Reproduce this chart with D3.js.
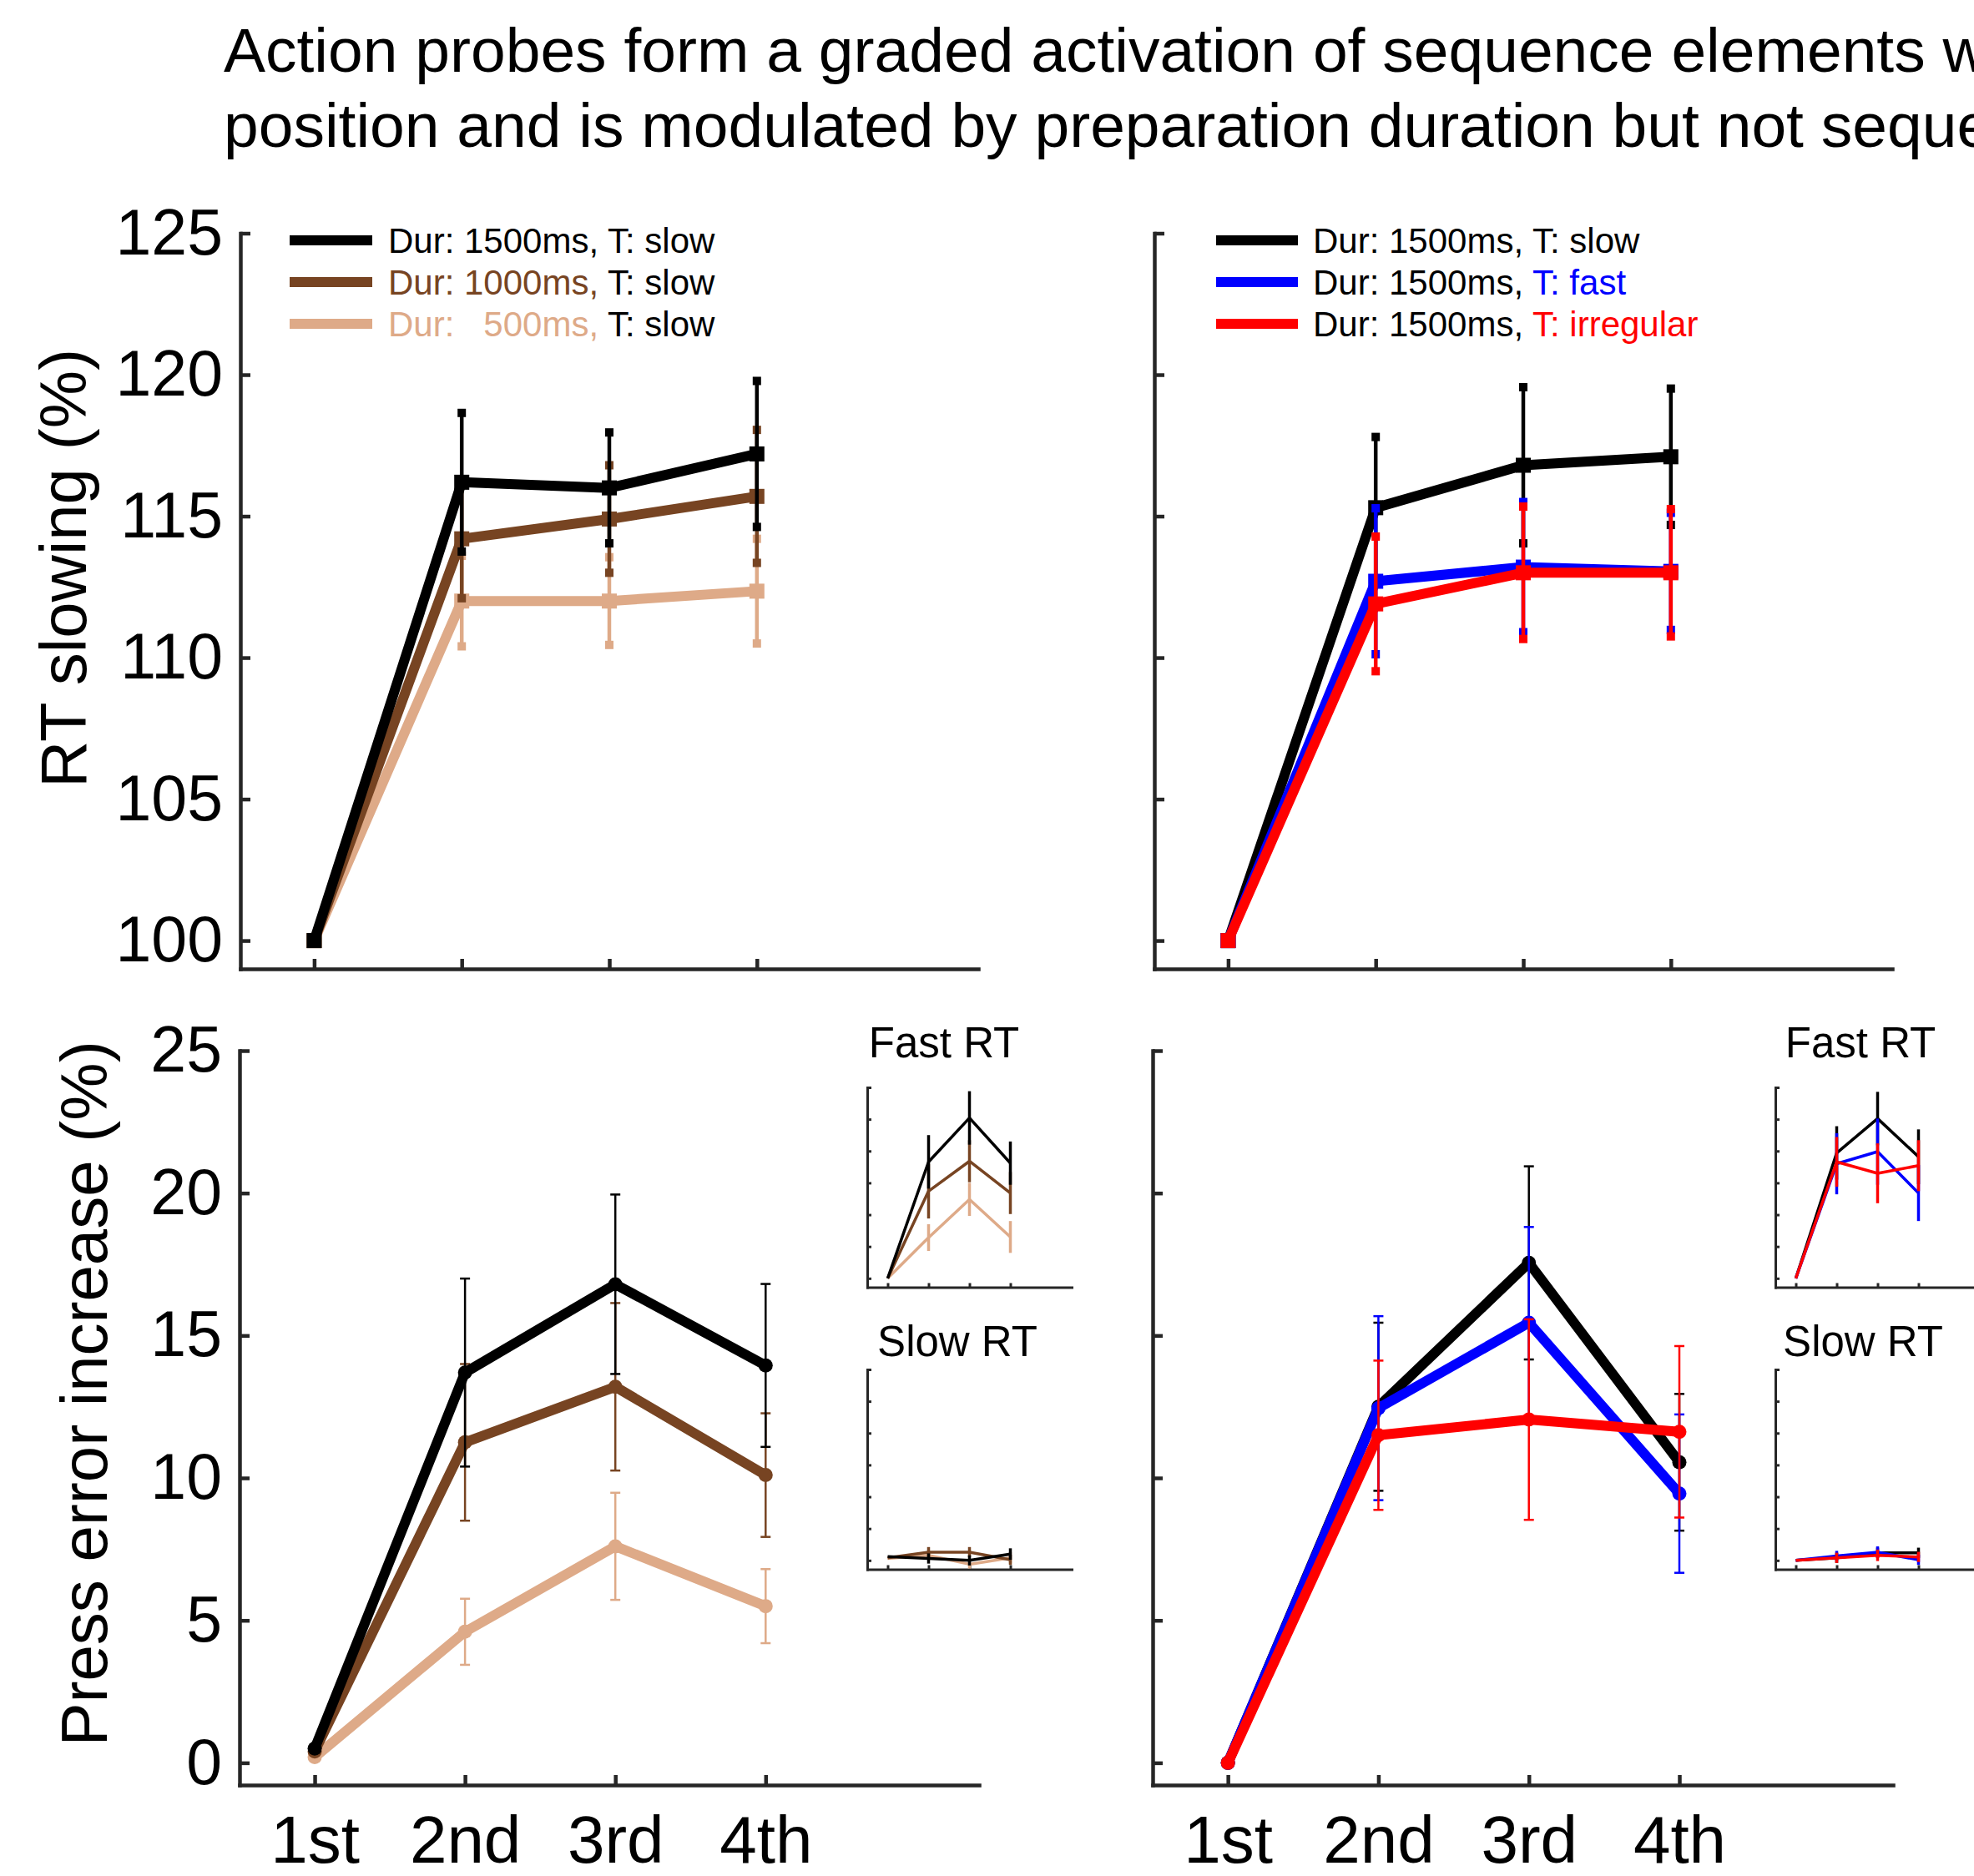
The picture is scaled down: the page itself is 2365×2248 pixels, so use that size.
<!DOCTYPE html>
<html>
<head>
<meta charset="utf-8">
<script src="https://cdn.jsdelivr.net/npm/d3@7"></script>
<style>
body { margin: 0; background: #fff; }
svg { display: block; font-family: "Liberation Sans", Arial, sans-serif; }
.leg { white-space: pre; }
</style>
</head>
<body>
<svg id="fig" width="2365" height="2248"></svg>
<script>
// x categories
const positions = ["1st", "2nd", "3rd", "4th"];
const posIdx = [1, 2, 3, 4];

// RT slowing (%), preparation duration (left top)
const rtDur1500 = [100, 116.2, 116.0, 117.2];
const rtDur1500Err = [0, 2.45, 1.96, 2.58];
const rtDur1000 = [100, 114.2, 114.9, 115.7];
const rtDur1000Err = [0, 2.1, 1.9, 2.35];
const rtDur500 = [100, 112.0, 112.0, 112.35];
const rtDur500Err = [0, 1.6, 1.55, 1.85];

// RT slowing (%), timing (right top)
const rtTimSlow = [100, 115.3, 116.8, 117.1];
const rtTimSlowErr = [0, 2.5, 2.76, 2.41];
const rtTimFast = [100, 112.7, 113.2, 113.05];
const rtTimFastErr = [0, 2.58, 2.3, 2.07];
const rtTimIrr = [100, 111.9, 113.0, 113.0];
const rtTimIrrErr = [0, 2.38, 2.34, 2.25];

// press error increase (%), duration (left bottom)
const peDur1500 = [0.5, 13.7, 16.8, 13.95];
const peDur1500Err = [0, 3.3, 3.15, 2.86];
const peDur1000 = [0.4, 11.25, 13.2, 10.1];
const peDur1000Err = [0, 2.75, 2.94, 2.17];
const peDur500 = [0.2, 4.6, 7.6, 5.5];
const peDur500Err = [0, 1.16, 1.88, 1.3];

// press error increase (%), timing (right bottom)
const peTimSlow = [0, 12.5, 17.55, 10.55];
const peTimSlowErr = [0, 2.95, 3.39, 2.4];
const peTimFast = [0, 12.45, 15.45, 9.45];
const peTimFastErr = [0, 3.23, 3.36, 2.78];
const peTimIrr = [0, 11.5, 12.05, 11.62];
const peTimIrrErr = [0, 2.62, 3.52, 3.01];

// insets: fast RT / slow RT (duration)
const fastDur1500 = [0, 18.3, 25.2, 18.1];
const fastDur1500Err = [0, 4.2, 4.2, 3.4];
const fastDur1000 = [0, 13.7, 18.4, 13.4];
const fastDur1000Err = [0, 4.3, 3.3, 3.3];
const fastDur500 = [0, 6.4, 12.4, 6.5];
const fastDur500Err = [0, 2.1, 2.6, 2.5];
const slowDur1500 = [0.6, 0.3, 0.0, 1.0];
const slowDur1500Err = [0, 0.8, 0.8, 0.9];
const slowDur1000 = [0.4, 1.3, 1.3, 0.1];
const slowDur1000Err = [0, 0.8, 0.8, 0.8];
const slowDur500 = [0.3, 0.8, -0.6, 0.4];
const slowDur500Err = [0, 0.7, 0.7, 0.9];

// insets: fast RT / slow RT (timing)
const fastTimSlow = [0, 19.7, 25.1, 19.1];
const fastTimSlowErr = [0, 4.2, 4.2, 4.3];
const fastTimFast = [0, 18.0, 19.9, 13.4];
const fastTimFastErr = [0, 4.8, 5.2, 4.4];
const fastTimIrr = [0, 18.3, 16.5, 17.7];
const fastTimIrrErr = [0, 3.9, 4.7, 4.0];
const slowTimSlow = [0, 0.4, 1.2, 1.2];
const slowTimSlowErr = [0, 0.8, 0.8, 0.8];
const slowTimFast = [0, 0.7, 1.3, 0.1];
const slowTimFastErr = [0, 0.8, 0.9, 0.8];
const slowTimIrr = [0, 0.4, 0.8, 0.55];
const slowTimIrrErr = [0, 0.8, 0.9, 0.8];

const rtTicks = [100, 105, 110, 115, 120, 125];
const peTicks = [0, 5, 10, 15, 20, 25];
const insetTicks = [0, 5, 10, 15, 20, 25, 30];

const cBlack = "#000000", cBrown = "#774422", cTan = "#DEAA88", cBlue = "#0000FF", cRed = "#FF0000";
const axisCol = "#262626";

const svg = d3.select("#fig");

// title (runs off the right edge, as in the original figure)
const title = svg.append("text").attr("font-size", 75).attr("fill", "#000");
title.append("tspan").attr("x", 268).attr("y", 86)
  .text("Action probes form a graded activation of sequence elements which scales with");
title.append("tspan").attr("x", 268).attr("y", 176)
  .text("position and is modulated by preparation duration but not sequence timing");

function drawPanel(p) {
  const x = d3.scaleLinear().domain(p.xDom).range([p.x0, p.x1]);
  const y = d3.scaleLinear().domain(p.yDom).range([p.yBot, p.yTop]);
  const g = svg.append("g");

  const xa = g.append("g")
    .attr("transform", `translate(0,${p.yBot})`)
    .call(d3.axisBottom(x).tickValues(posIdx).tickSizeInner(-p.tick).tickSizeOuter(0)
      .tickPadding(36).tickFormat((d, i) => p.xLabels ? positions[i] : ""));
  const ya = g.append("g")
    .attr("transform", `translate(${p.x0},0)`)
    .call(d3.axisLeft(y).tickValues(p.yTicks).tickSizeInner(-p.tick).tickSizeOuter(0)
      .tickPadding(21).tickFormat(d => p.yLabels ? d : ""));
  [xa, ya].forEach(a => {
    a.attr("color", axisCol).attr("font-family", null).attr("font-size", 77);
    a.select(".domain").attr("stroke-width", p.axisW).attr("stroke-linecap", "square");
    a.selectAll(".tick line").attr("stroke-width", p.axisW);
    a.selectAll(".tick text").attr("fill", "#000");
  });
  xa.attr("font-size", 80);

  const line = d3.line().x((d, i) => x(posIdx[i])).y(d => y(d));

  p.series.forEach(s => {
    const sg = g.append("g");
    sg.append("path").datum(s.vals)
      .attr("d", line)
      .attr("fill", "none")
      .attr("stroke", s.color)
      .attr("stroke-width", p.lineW)
      .attr("stroke-linejoin", "round");

    const eb = s.vals.map((v, i) => ({x: posIdx[i], v: v, e: s.err[i]})).filter(d => d.e > 0);
    sg.selectAll(".eb").data(eb).enter().append("line")
      .attr("x1", d => x(d.x)).attr("x2", d => x(d.x))
      .attr("y1", d => y(d.v - d.e)).attr("y2", d => y(d.v + d.e))
      .attr("stroke", s.color).attr("stroke-width", p.errW);
    if (p.cap === "square") {
      eb.forEach(d => {
        [d.v - d.e, d.v + d.e].forEach(v => {
          sg.append("rect")
            .attr("x", x(d.x) - 5).attr("y", y(v) - 5)
            .attr("width", 10).attr("height", 10)
            .attr("fill", s.color);
        });
      });
    } else if (p.cap === "line") {
      eb.forEach(d => {
        [d.v - d.e, d.v + d.e].forEach(v => {
          sg.append("line")
            .attr("x1", x(d.x) - 6).attr("x2", x(d.x) + 6)
            .attr("y1", y(v)).attr("y2", y(v))
            .attr("stroke", s.color).attr("stroke-width", p.errW);
        });
      });
    }

    if (p.marker === "square") {
      sg.selectAll(".mk").data(s.vals).enter().append("rect")
        .attr("x", (d, i) => x(posIdx[i]) - 9).attr("y", d => y(d) - 9)
        .attr("width", 18).attr("height", 18)
        .attr("fill", s.color);
    } else if (p.marker === "circle") {
      sg.selectAll(".mk").data(s.vals).enter().append("circle")
        .attr("cx", (d, i) => x(posIdx[i])).attr("cy", d => y(d))
        .attr("r", 8.5)
        .attr("fill", s.color);
    }
  });
}

// main panels
const mainTop = {yTop: 279.5, yBot: 1161, yDom: [99, 125], yTicks: rtTicks, xDom: [0.5, 5.5],
  tick: 12, axisW: 4.5, lineW: 12, errW: 4.5, cap: "square", marker: "square", xLabels: false};
const mainBot = {yTop: 1259, yBot: 2139, yDom: [-0.78, 25], yTicks: peTicks, xDom: [0.5, 5.42],
  tick: 12, axisW: 4.5, lineW: 12, errW: 2.5, cap: "line", marker: "circle", xLabels: true};

drawPanel(Object.assign({}, mainTop, {x0: 288, x1: 1172, yLabels: true, series: [
  {vals: rtDur500, err: rtDur500Err, color: cTan},
  {vals: rtDur1000, err: rtDur1000Err, color: cBrown},
  {vals: rtDur1500, err: rtDur1500Err, color: cBlack}]}));
drawPanel(Object.assign({}, mainTop, {x0: 1383, x1: 2267, yLabels: false, series: [
  {vals: rtTimSlow, err: rtTimSlowErr, color: cBlack},
  {vals: rtTimFast, err: rtTimFastErr, color: cBlue},
  {vals: rtTimIrr, err: rtTimIrrErr, color: cRed}]}));
drawPanel(Object.assign({}, mainBot, {x0: 287, x1: 1173, yLabels: true, series: [
  {vals: peDur500, err: peDur500Err, color: cTan},
  {vals: peDur1000, err: peDur1000Err, color: cBrown},
  {vals: peDur1500, err: peDur1500Err, color: cBlack}]}));
drawPanel(Object.assign({}, mainBot, {x0: 1381, x1: 2268, yLabels: false, series: [
  {vals: peTimSlow, err: peTimSlowErr, color: cBlack},
  {vals: peTimFast, err: peTimFastErr, color: cBlue},
  {vals: peTimIrr, err: peTimIrrErr, color: cRed}]}));

// insets
const inset = {yDom: [-1.4, 30], yTicks: insetTicks, xDom: [0.5, 5.5], tick: 5, axisW: 3,
  lineW: 3.5, errW: 3.5, cap: "none", marker: "none", xLabels: false, yLabels: false};
const durInsetSeries = (a, b, c, ae, be, ce) => [
  {vals: c, err: ce, color: cTan}, {vals: b, err: be, color: cBrown}, {vals: a, err: ae, color: cBlack}];
const timInsetSeries = (a, b, c, ae, be, ce) => [
  {vals: a, err: ae, color: cBlack}, {vals: b, err: be, color: cBlue}, {vals: c, err: ce, color: cRed}];

drawPanel(Object.assign({}, inset, {x0: 1039, x1: 1284, yTop: 1303, yBot: 1542.5,
  series: durInsetSeries(fastDur1500, fastDur1000, fastDur500, fastDur1500Err, fastDur1000Err, fastDur500Err)}));
drawPanel(Object.assign({}, inset, {x0: 1039, x1: 1284, yTop: 1641, yBot: 1880.5,
  series: durInsetSeries(slowDur1500, slowDur1000, slowDur500, slowDur1500Err, slowDur1000Err, slowDur500Err)}));
drawPanel(Object.assign({}, inset, {x0: 2127, x1: 2372, yTop: 1303, yBot: 1542.5,
  series: timInsetSeries(fastTimSlow, fastTimFast, fastTimIrr, fastTimSlowErr, fastTimFastErr, fastTimIrrErr)}));
drawPanel(Object.assign({}, inset, {x0: 2127, x1: 2372, yTop: 1641, yBot: 1880.5,
  series: timInsetSeries(slowTimSlow, slowTimFast, slowTimIrr, slowTimSlowErr, slowTimFastErr, slowTimIrrErr)}));

// inset titles
[[1131, 1267, "Fast RT"], [1147, 1625, "Slow RT"], [2229, 1267, "Fast RT"], [2232, 1625, "Slow RT"]]
  .forEach(t => {
    svg.append("text").attr("x", t[0]).attr("y", t[1])
      .attr("text-anchor", "middle").attr("font-size", 51).attr("fill", "#000")
      .text(t[2]);
  });

// y labels
svg.append("text").attr("transform", "translate(103,681) rotate(-90)")
  .attr("text-anchor", "middle").attr("font-size", 78).text("RT slowing (%)");
svg.append("text").attr("transform", "translate(128,1670) rotate(-90)")
  .attr("text-anchor", "middle").attr("font-size", 78).text("Press error increase (%)");

// legends
const legDur = [
  {color: cBlack, dur: "Dur: 1500ms, ", t: "T: slow", tColor: cBlack},
  {color: cBrown, dur: "Dur: 1000ms, ", t: "T: slow", tColor: cBlack},
  {color: cTan, dur: "Dur:   500ms, ", t: "T: slow", tColor: cBlack}];
const legTim = [
  {color: cBlack, dur: "Dur: 1500ms, ", t: "T: slow", tColor: cBlack},
  {color: cBlue, dur: "Dur: 1500ms, ", t: "T: fast", tColor: cBlue},
  {color: cRed, dur: "Dur: 1500ms, ", t: "T: irregular", tColor: cRed}];
const legRows = [288, 338, 388];

function drawLegend(items, lx0, lx1, textX, durColored) {
  items.forEach((it, i) => {
    const yy = legRows[i];
    svg.append("line").attr("x1", lx0).attr("x2", lx1).attr("y1", yy).attr("y2", yy)
      .attr("stroke", it.color).attr("stroke-width", 12);
    const t = svg.append("text").attr("class", "leg")
      .attr("x", textX).attr("y", yy + 15).attr("font-size", 42);
    t.append("tspan").attr("fill", durColored ? it.color : cBlack).text(it.dur);
    t.append("tspan").attr("fill", it.tColor).text(it.t);
  });
}
drawLegend(legDur, 347, 446, 465, true);
drawLegend(legTim, 1457, 1555, 1573, false);
</script>
</body>
</html>
